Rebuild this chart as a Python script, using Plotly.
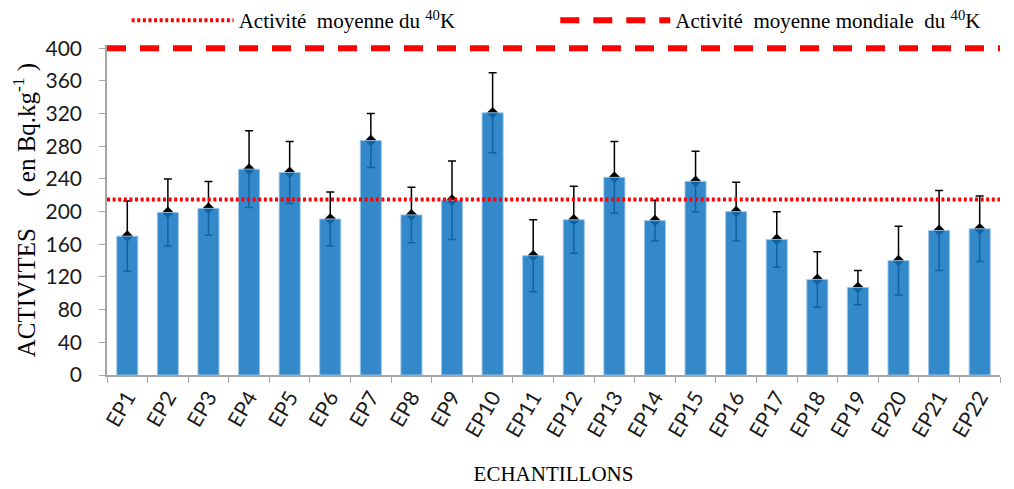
import plotly.graph_objects as go

categories = [f"EP{i}" for i in range(1, 23)]
activites = [170, 199, 204, 252, 248, 191, 287, 196, 214, 321, 146,
             190, 242, 189, 237, 200, 166, 117, 107, 140, 177, 179]
incertitudes = [43, 41, 33, 47, 38, 33, 33, 34, 48, 49, 44,
                41, 44, 25, 37, 36, 34, 34, 21, 42, 49, 40]
moyenne = 215
moyenne_mondiale = 400
y_ticks = list(range(0, 401, 40))

serif = "Liberation Serif, Times New Roman, serif"
sans = "Lato, Calibri, sans-serif"
nb = "\u00a0"

fig = go.Figure()

# error bars and markers (drawn beneath the semi-transparent bars)
fig.add_trace(go.Scatter(
    x=categories, y=activites, mode="markers",
    marker=dict(symbol="diamond", size=9, color="black"),
    error_y=dict(type="data", array=incertitudes, visible=True,
                 color="black", thickness=1.5, width=4),
    showlegend=False, hoverinfo="skip", xaxis="x", yaxis="y"))

fig.add_trace(go.Bar(
    x=categories, y=activites,
    marker=dict(color="rgba(17,116,194,0.85)",
                line=dict(color="rgba(160,200,235,0.9)", width=1)),
    showlegend=False, xaxis="x2", yaxis="y"))

fig.add_trace(go.Scatter(
    x=[0, 1], y=[moyenne, moyenne], mode="lines",
    line=dict(color="#ff0000", width=4, dash="3px,2.6px"),
    name=f"Activité{nb} moyenne du <sup>40</sup>K",
    legend="legend", xaxis="x3", yaxis="y"))
fig.add_trace(go.Scatter(
    x=[0, 1], y=[moyenne_mondiale, moyenne_mondiale], mode="lines",
    line=dict(color="#ff0000", width=6, dash="19px,14px"),
    name=f"Activité{nb} moyenne mondiale{nb} du <sup>40</sup>K",
    legend="legend2", xaxis="x3", yaxis="y"))

axis_grey = "#a6a6a6"
legend_common = dict(orientation="h", yanchor="middle", xanchor="left",
                     font=dict(family=serif, size=21, color="black"),
                     bgcolor="rgba(0,0,0,0)")
fig.update_layout(
    width=1006, height=481,
    margin=dict(l=99, r=14, t=37, b=113.5, autoexpand=False),
    paper_bgcolor="white", plot_bgcolor="white",
    bargap=0.48,
    showlegend=True,
    legend=dict(x=0.022, y=1.074, itemwidth=102, **legend_common),
    legend2=dict(x=0.502, y=1.074, itemwidth=110, **legend_common),
    xaxis=dict(type="category", categoryarray=categories, range=[-0.5, 21.5],
               showline=True, linecolor=axis_grey, linewidth=1.5,
               ticks="outside", tickson="boundaries", ticklen=6, tickcolor=axis_grey,
               tickangle=-60, tickfont=dict(family=sans, size=21, color="#1a1a1a"),
               showgrid=False, zeroline=False,
               title=dict(text="ECHANTILLONS", font=dict(family=serif, size=21, color="black"),
                          standoff=26)),
    xaxis2=dict(type="category", categoryarray=categories, range=[-0.5, 21.5],
                overlaying="x", visible=False),
    xaxis3=dict(range=[0, 1], overlaying="x", visible=False),
    yaxis=dict(range=[0, 404], tickvals=y_ticks, showline=True, linecolor=axis_grey,
               linewidth=1.5, ticks="outside", ticklen=6, tickcolor=axis_grey,
               ticklabelstandoff=13,
               tickfont=dict(family=sans, size=21, color="#1a1a1a"),
               showgrid=False, zeroline=False,
               title=dict(text="ACTIVITES" + nb * 5 + "(" + nb + "en Bq.kg<sup>-1</sup>" + nb + ")",
                          font=dict(family=serif, size=25, color="black"), standoff=18)),
)

fig.write_html("out.html")
